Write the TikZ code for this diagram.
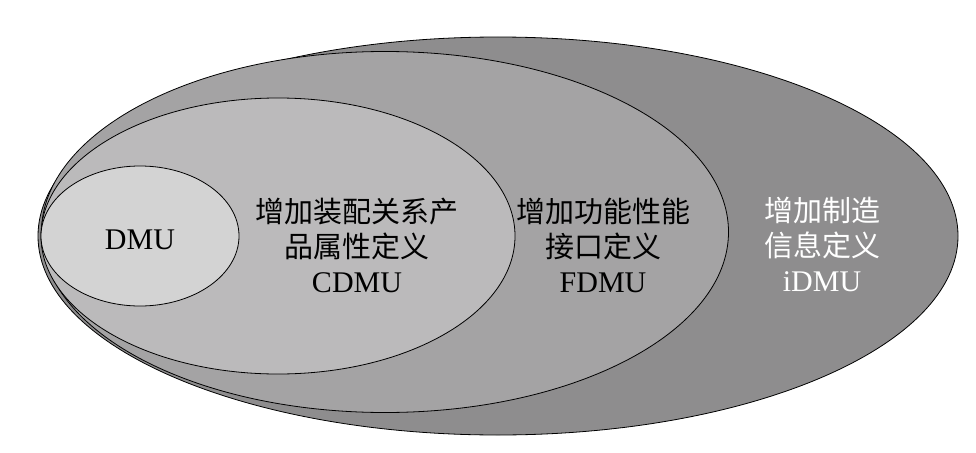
\documentclass[tikz,border=0pt]{standalone}
\usepackage{fontspec}
\setmainfont{Liberation Serif}
\newfontfamily\cjk{Noto Sans CJK SC}
\usepackage{tikz}
\usetikzlibrary{shapes.geometric}
\definecolor{idmugray}{HTML}{8E8D8E}
\definecolor{fdmugray}{HTML}{A4A3A4}
\definecolor{cdmugray}{HTML}{BBBABB}
\definecolor{dmugray}{HTML}{D3D3D3}

\begin{document}
\begin{tikzpicture}[
x=1pt, y=-1pt,
layer/.style={
	ellipse, draw=black, line width=0.8pt,
	inner sep=0pt
},
label/.style={
	align=center, inner sep=0pt,
	font=\cjk\fontsize{29}{35}\selectfont
}
]
\useasboundingbox (0,0) rectangle (976,452);
% nested layers, outermost first
\node[layer, fill=idmugray, minimum width=920pt, minimum height=398pt] (idmu) at (498,236) {};
\node[layer, fill=fdmugray, minimum width=687pt, minimum height=361pt] (fdmu) at (385,232) {};
\node[layer, fill=cdmugray, minimum width=474pt, minimum height=276pt] (cdmu) at (278,236) {};
\node[layer, fill=dmugray, minimum width=198pt, minimum height=140pt] (dmu) at (140,236) {};
% texts
\node[font=\fontsize{30}{35}\selectfont] (dmutext) at (140,240) {DMU};
\node[label] (cdmutext) at (357,245) {增加装配关系产\\品属性定义\\{\rmfamily\fontsize{30}{35}\selectfont CDMU}};
\node[label] (fdmutext) at (603,245) {增加功能性能\\接口定义\\{\rmfamily\fontsize{30}{35}\selectfont FDMU}};
\node[label, text=white] (idmutext) at (822,244) {增加制造\\信息定义\\{\rmfamily\fontsize{30}{35}\selectfont iDMU}};
\end{tikzpicture}
\end{document}
